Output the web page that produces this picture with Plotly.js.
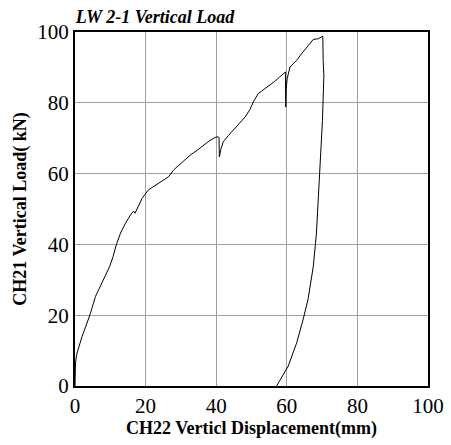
<!DOCTYPE html>
<html>
<head>
<meta charset="utf-8">
<script src="https://cdn.plot.ly/plotly-3.0.1.min.js"></script>
<style>body{margin:0;padding:0;background:#fff}#chart{width:451px;height:445px}</style>
</head>
<body>
<div id="chart"></div>
<script>
// Displacement (mm)
const displacement = [0, 0.14, 0.5, 1.1, 2.0, 3.4, 4.4, 5.8, 7.2, 8.6, 9.8, 10.8, 11.7, 12.9, 14.3, 15.7, 16.6, 17.0, 17.4, 19.0, 20.8, 23.7, 26.5, 27.9, 30.0, 32.6, 34.5, 36.4, 38.0, 39.7, 40.6, 40.8, 40.9, 41.3, 42.0, 43.5, 44.9, 46.5, 48.2, 49.5, 50.5, 51.9, 53.5, 55.2, 56.5, 58.0, 59.3, 59.6, 59.7, 59.8, 60.1, 60.9, 61.8, 62.8, 64.2, 65.6, 66.5, 67.5, 68.9, 69.8, 70.2, 70.3, 70.5, 70.1, 69.3, 68.6, 68.4, 67.5, 66.0, 64.6, 62.8, 60.4, 58.5, 57.1];
// Vertical load (kN)
const load = [0, 6.5, 9.0, 11.2, 14.0, 17.8, 20.6, 25.3, 28.1, 30.9, 33.7, 36.6, 39.9, 43.2, 46.0, 48.3, 49.4, 48.8, 49.6, 53.0, 55.4, 57.2, 59.1, 61.0, 62.8, 65.2, 66.5, 68.0, 69.2, 70.2, 70.4, 70.2, 64.7, 66.8, 69.0, 70.8, 72.3, 74.2, 76.0, 78.0, 80.2, 82.6, 83.8, 84.9, 86.0, 87.3, 88.5, 88.7, 78.8, 83.5, 86.8, 90.1, 91.0, 92.0, 93.9, 95.7, 96.8, 97.9, 98.1, 98.5, 98.8, 92.0, 87.7, 75.0, 61.0, 50.0, 43.2, 33.7, 24.4, 18.7, 12.2, 5.6, 2.5, 0];

const tickVals = [0, 20, 40, 60, 80, 100];
const tickText = ['0', '20', '40', '60', '80', '100'];

const font = 'Liberation Serif';

Plotly.newPlot('chart', [{
  x: displacement,
  y: load,
  type: 'scatter',
  mode: 'lines',
  line: {color: '#000', width: 1},
  hoverinfo: 'skip'
}], {
  width: 451,
  height: 445,
  margin: {l: 74.5, r: 23, t: 32, b: 58.5},
  paper_bgcolor: '#fff',
  plot_bgcolor: '#fff',
  showlegend: false,
  font: {family: font, color: '#000'},
  title: {
    text: '<b><i>LW 2-1 Vertical Load</i></b>',
    font: {family: font, size: 18, color: '#000'},
    x: 0.168, xref: 'container', xanchor: 'left',
    y: 0.962, yref: 'container', yanchor: 'middle'
  },
  xaxis: {
    range: [0, 100],
    tickvals: tickVals,
    ticktext: tickText,
    tickfont: {family: font, size: 21, color: '#000'},
    ticks: '',
    showgrid: true,
    gridcolor: '#a0a0a0',
    gridwidth: 1,
    zeroline: false,
    showline: true,
    linecolor: '#000',
    linewidth: 2,
    mirror: true,
    title: {text: '<b>CH22 Verticl Displacement(mm)</b>', font: {family: font, size: 18, color: '#000'}, standoff: 0}
  },
  yaxis: {
    range: [0, 100],
    tickvals: tickVals,
    ticktext: tickText,
    tickfont: {family: font, size: 21, color: '#000'},
    ticks: '',
    showgrid: true,
    gridcolor: '#a0a0a0',
    gridwidth: 1,
    zeroline: false,
    showline: true,
    linecolor: '#000',
    linewidth: 2,
    mirror: true,
    title: {text: '<b>CH21 Vertical Load( kN)</b>', font: {family: font, size: 18, color: '#000'}, standoff: 6}
  }
}, {staticPlot: true, displayModeBar: false});
</script>
</body>
</html>
